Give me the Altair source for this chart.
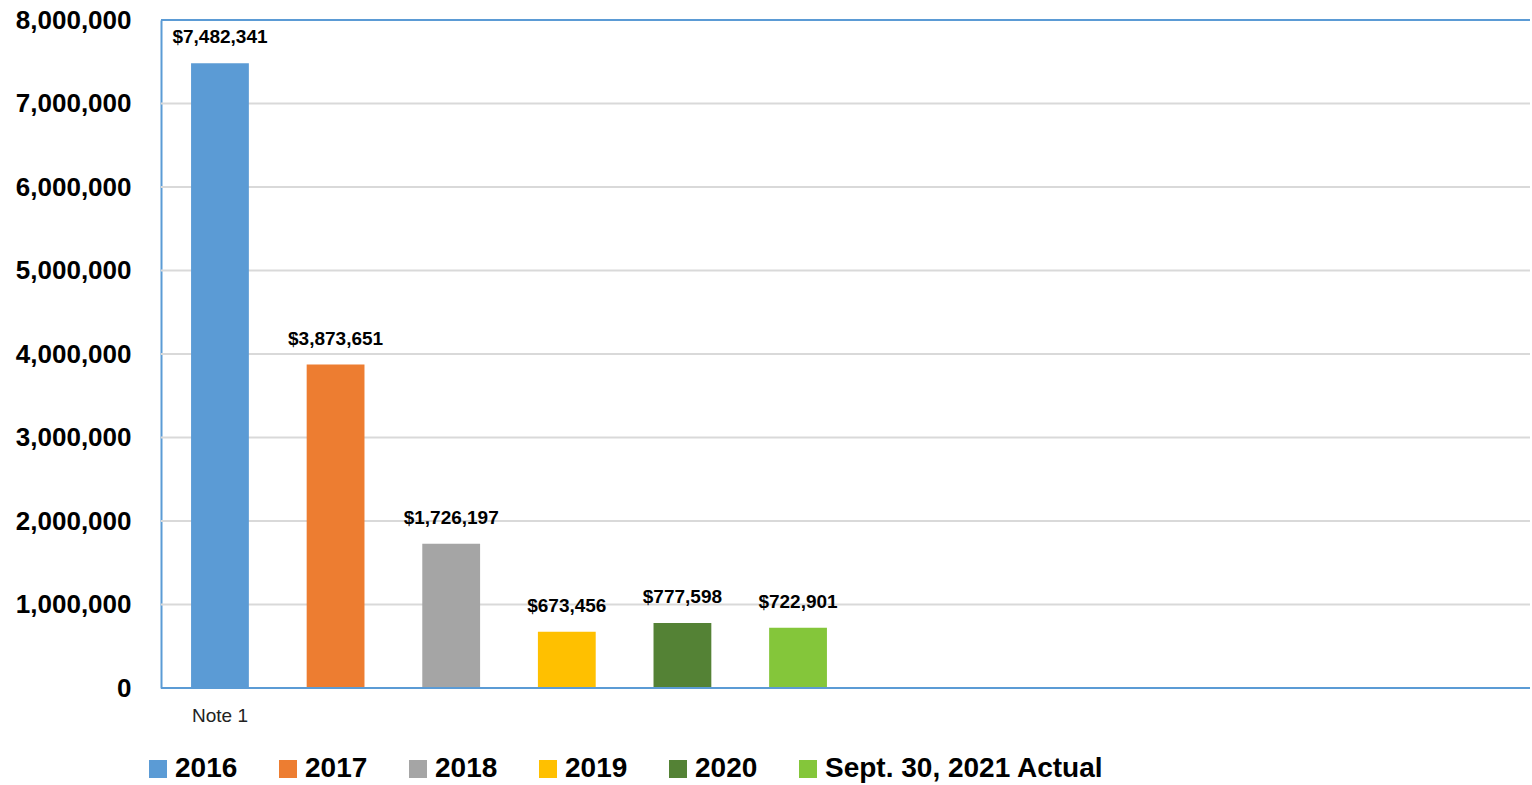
import altair as alt
import pandas as pd

categories = ["2016", "2017", "2018", "2019", "2020", "Sept. 30, 2021 Actual"]
values = [7482341, 3873651, 1726197, 673456, 777598, 722901]
colors = ["#5B9BD5", "#ED7D31", "#A5A5A5", "#FFC000", "#548235", "#84C63A"]
y_ticks = [0, 1000000, 2000000, 3000000, 4000000, 5000000, 6000000, 7000000, 8000000]
note_category = "2016"
note_text = "Note 1"

df = pd.DataFrame({"cat": categories, "value": values})

FONT = "Liberation Sans"
BLUE = "#5B9BD5"

x_scale = alt.Scale(domain=categories, range=[0, 696], paddingInner=0.5, paddingOuter=0.26)

x_enc = alt.X(
    "cat:N",
    sort=categories,
    scale=x_scale,
    axis=alt.Axis(
        title=None,
        labelExpr=f"datum.value == '{note_category}' ? '{note_text}' : ''",
        ticks=False,
        domain=False,
        labelAngle=0,
        labelFontSize=19,
        labelPadding=18,
        labelColor="#222222",
        labelFont=FONT,
        labelFontWeight="normal",
    ),
)

y_enc = alt.Y(
    "value:Q",
    scale=alt.Scale(domain=[0, 8000000], nice=False),
    axis=alt.Axis(
        title=None,
        values=y_ticks,
        format=",.0f",
        ticks=False,
        grid=False,
        domainColor=BLUE,
        domainWidth=2,
        labelFontSize=26,
        labelFont=FONT,
        labelFontWeight="bold",
        labelColor="#000000",
        labelPadding=30,
    ),
)

grid_df = pd.DataFrame({"v": y_ticks[1:-1]})
grid = alt.Chart(grid_df).mark_rule(color="#D9D9D9", strokeWidth=2).encode(
    y=alt.Y("v:Q")
)

bars = alt.Chart(df).mark_bar().encode(
    x=x_enc,
    y=y_enc,
    color=alt.Color(
        "cat:N",
        sort=categories,
        scale=alt.Scale(domain=categories, range=colors),
        legend=alt.Legend(
            title=None,
            orient="none",
            legendX=-17,
            legendY=735,
            direction="horizontal",
            symbolType="square",
            symbolSize=324,
            symbolStrokeWidth=0,
            symbolOpacity=1,
            labelFontSize=28,
            labelFont=FONT,
            labelFontWeight="bold",
            labelColor="#000000",
            labelLimit=500,
            labelOffset=3,
            columnPadding=36,
            padding=0,
        ),
    ),
)

labels = alt.Chart(df).mark_text(
    font=FONT, fontSize=19, fontWeight="bold", color="#000000", baseline="middle", dy=-26
).encode(
    x=alt.X("cat:N", sort=categories),
    y=alt.Y("value:Q"),
    text=alt.Text("value:Q", format="$,.0f"),
)

borders = pd.DataFrame({"v": [y_ticks[0], y_ticks[-1]]})
frame = alt.Chart(borders).mark_rule(color=BLUE, strokeWidth=2).encode(
    y=alt.Y("v:Q")
)

chart = alt.layer(grid, bars, labels, frame).properties(
    width=1369,
    height=668,
    autosize=alt.AutoSizeParams(type="none"),
    padding={"left": 161, "top": 20, "right": 1, "bottom": 96},
).configure_view(stroke=None)

chart.save("out.html", embed_options={"renderer": "svg", "actions": False})
